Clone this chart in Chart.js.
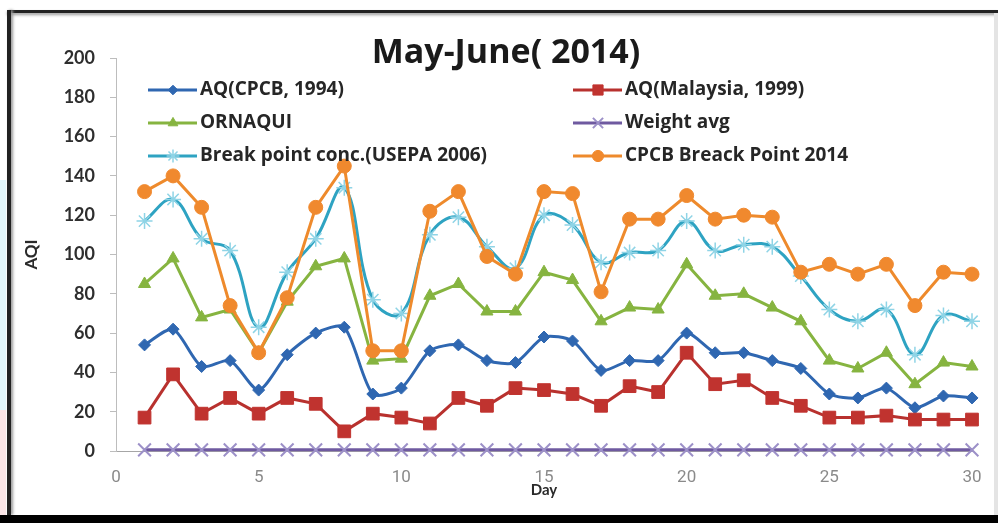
<!DOCTYPE html>
<html>
<head>
<meta charset="utf-8">
<title>May-June( 2014)</title>
<script src="https://cdn.jsdelivr.net/npm/chart.js@4/dist/chart.umd.min.js"></script>
<style>
  html, body { margin: 0; padding: 0; background: #fff; }
  #wrap { position: relative; width: 998px; height: 523px; overflow: hidden; }
  #aqiChart { position: absolute; left: 0; top: 0; }
  .edge { position: absolute; }
</style>
</head>
<body>
<div id="wrap">
  <canvas id="aqiChart" width="998" height="523"></canvas>
  <!-- scanned frame around the figure -->
  <div class="edge" style="left:0;top:180px;width:6px;height:230px;background:#e3f6fb"></div>
  <div class="edge" style="left:0;top:410px;width:6px;height:105px;background:#fbe6e8"></div>
  <div class="edge" style="left:7px;top:10px;width:991px;height:3px;background:#222;box-shadow:0 2px 3px #999"></div>
  <div class="edge" style="left:7px;top:10px;width:4px;height:505px;background:#222;box-shadow:2px 0 3px #999"></div>
  <div class="edge" style="left:994px;top:13px;width:4px;height:502px;background:#e4e4e4"></div>
  <div class="edge" style="left:0;top:515px;width:998px;height:8px;background:#000"></div>
</div>
<script>
// Day numbers and AQI values
const days = [1, 2, 3, 4, 5, 6, 7, 8, 9, 10, 11, 12, 13, 14, 15, 16, 17, 18, 19, 20, 21, 22, 23, 24, 25, 26, 27, 28, 29, 30];
const aqCpcb1994 = [54, 62, 43, 46, 31, 49, 60, 63, 29, 32, 51, 54, 46, 45, 58, 56, 41, 46, 46, 60, 50, 50, 46, 42, 29, 27, 32, 22, 28, 27];
const aqMalaysia1999 = [17, 39, 19, 27, 19, 27, 24, 10, 19, 17, 14, 27, 23, 32, 31, 29, 23, 33, 30, 50, 34, 36, 27, 23, 17, 17, 18, 16, 16, 16];
const ornaqui = [85, 98, 68, 72, 50, 76, 94, 98, 46, 47, 79, 85, 71, 71, 91, 87, 66, 73, 72, 95, 79, 80, 73, 66, 46, 42, 50, 34, 45, 43];
const weightAvg = [0.6, 0.6, 0.6, 0.6, 0.6, 0.6, 0.6, 0.6, 0.6, 0.6, 0.6, 0.6, 0.6, 0.6, 0.6, 0.6, 0.6, 0.6, 0.6, 0.6, 0.6, 0.6, 0.6, 0.6, 0.6, 0.6, 0.6, 0.6, 0.6, 0.6];
const breakPointUsepa = [117, 128, 108, 102, 63, 91, 108, 134, 77, 70, 110, 119, 104, 93, 120, 115, 96, 101, 102, 117, 102, 105, 104, 89, 72, 66, 72, 49, 69, 66];
const cpcb2014 = [132, 140, 124, 74, 50, 78, 124, 145, 51, 51, 122, 132, 99, 90, 132, 131, 81, 118, 118, 130, 118, 120, 119, 91, 95, 90, 95, 74, 91, 90];

const seriesNames = ['AQ(CPCB, 1994)', 'AQ(Malaysia, 1999)', 'ORNAQUI', 'Weight avg', 'Break point conc.(USEPA 2006)', 'CPCB Breack Point 2014'];
const xTicks = [0, 5, 10, 15, 20, 25, 30];
const yTicks = [0, 20, 40, 60, 80, 100, 120, 140, 160, 180, 200];
const chartTitle = 'May-June( 2014)';

function toPoints(values) {
    return days.map((d, i) => ({ x: d, y: values[i] }));
}

// Excel-like series look
const styles = [
    { line: '#2f67b1', point: '#2f67b1', pointStyle: 'rectRot', radius: 6, tension: 0.25, pbw: 1 },
    { line: '#b8312e', point: '#c0332f', pointStyle: 'rect', radius: 9, tension: 0, pbw: 1 },
    { line: '#86b440', point: '#86b440', pointStyle: 'triangle', radius: 7, tension: 0, pbw: 1 },
    { line: '#6f5aa0', point: '#9c90c8', pointStyle: 'crossRot', radius: 9, tension: 0, pbw: 2 },
    { line: '#2ea3c2', point: '#8fd4e6', pointStyle: 'star', radius: 8, tension: 0.4, pbw: 1.5 },
    { line: '#ee8a2c', point: '#f0892e', pointStyle: 'circle', radius: 7, tension: 0, pbw: 1 }
];
const seriesValues = [aqCpcb1994, aqMalaysia1999, ornaqui, weightAvg, breakPointUsepa, cpcb2014];

const datasets = seriesValues.map((vals, i) => {
    const s = styles[i];
    return {
        label: seriesNames[i],
        data: toPoints(vals),
        borderColor: s.line,
        backgroundColor: s.point,
        borderWidth: 3,
        tension: s.tension,
        clip: false,
        pointStyle: s.pointStyle,
        pointRadius: s.radius,
        pointBackgroundColor: s.point,
        pointBorderColor: s.point,
        pointBorderWidth: s.pbw,
        order: seriesValues.length - i   // later series painted on top, as in Excel
    };
});

// title and two-column legend drawn on the canvas
const legendSpots = [
    { x: 148, y: 90 }, { x: 573, y: 90 },
    { x: 148, y: 123 }, { x: 573, y: 123 },
    { x: 148, y: 156 }, { x: 573, y: 156 }
];

const headerPlugin = {
    id: 'header',
    afterDraw(chart) {
        const ctx = chart.ctx;
        ctx.save();
        ctx.fillStyle = '#1a1a1a';
        ctx.font = 'bold 34px "Open Sans", Lato, sans-serif';
        ctx.textAlign = 'center';
        ctx.textBaseline = 'middle';
        ctx.fillText(chartTitle, 506, 53);

        chart.data.datasets.forEach((ds, i) => {
            const p = legendSpots[i];
            ctx.strokeStyle = ds.borderColor;
            ctx.lineWidth = 3;
            ctx.beginPath();
            ctx.moveTo(p.x, p.y);
            ctx.lineTo(p.x + 49, p.y);
            ctx.stroke();
            ctx.fillStyle = ds.pointBackgroundColor;
            ctx.strokeStyle = ds.pointBorderColor;
            ctx.lineWidth = ds.pointBorderWidth;
            Chart.helpers.drawPoint(ctx, { pointStyle: ds.pointStyle, radius: ds.pointRadius * 0.8, rotation: 0, borderWidth: ds.pointBorderWidth }, p.x + 25, p.y);
            ctx.fillStyle = '#262626';
            ctx.font = 'bold 19px "Open Sans", Lato, sans-serif';
            ctx.textAlign = 'left';
            ctx.fillText(ds.label, p.x + 52, p.y);
        });
        ctx.restore();
    }
};

new Chart(document.getElementById('aqiChart'), {
    type: 'line',
    data: { datasets: datasets },
    options: {
        responsive: false,
        animation: false,
        layout: { padding: { left: 21, top: 58, right: 26, bottom: 24 } },
        plugins: {
            legend: { display: false },
            title: { display: false },
            tooltip: { enabled: false }
        },
        scales: {
            x: {
                type: 'linear',
                min: 0,
                max: 30,
                afterFit(scale) { scale.height = 48; },
                afterBuildTicks(scale) { scale.ticks = xTicks.map(v => ({ value: v })); },
                grid: { display: false },
                border: { display: true, color: '#a6a6a6', width: 1 },
                ticks: {
                    padding: 9,
                    color: '#8a8a8a',
                    font: { family: '"Liberation Sans Narrow", "Roboto", sans-serif', size: 17 }
                },
                title: {
                    display: true,
                    text: 'Day',
                    color: '#2a2a2a',
                    padding: 0,
                    font: { family: 'Lato, "Open Sans", sans-serif', size: 15, weight: 'bold' }
                }
            },
            y: {
                min: 0,
                max: 200,
                afterFit(scale) { scale.width = 95; },
                afterBuildTicks(scale) { scale.ticks = yTicks.map(v => ({ value: v })); },
                grid: { display: true, drawOnChartArea: false, drawTicks: true, tickLength: 6, color: '#bdbdbd' },
                border: { display: true, color: '#bdbdbd', width: 1 },
                ticks: {
                    padding: 15,
                    color: '#2e2e2e',
                    font: { family: 'Lato, "Open Sans", sans-serif', size: 18, weight: 'bold' }
                },
                title: {
                    display: true,
                    text: 'AQI',
                    color: '#2a2a2a',
                    padding: 0,
                    font: { family: 'Lato, "Open Sans", sans-serif', size: 17, weight: 'bold' }
                }
            }
        }
    },
    plugins: [headerPlugin]
});
</script>
</body>
</html>
